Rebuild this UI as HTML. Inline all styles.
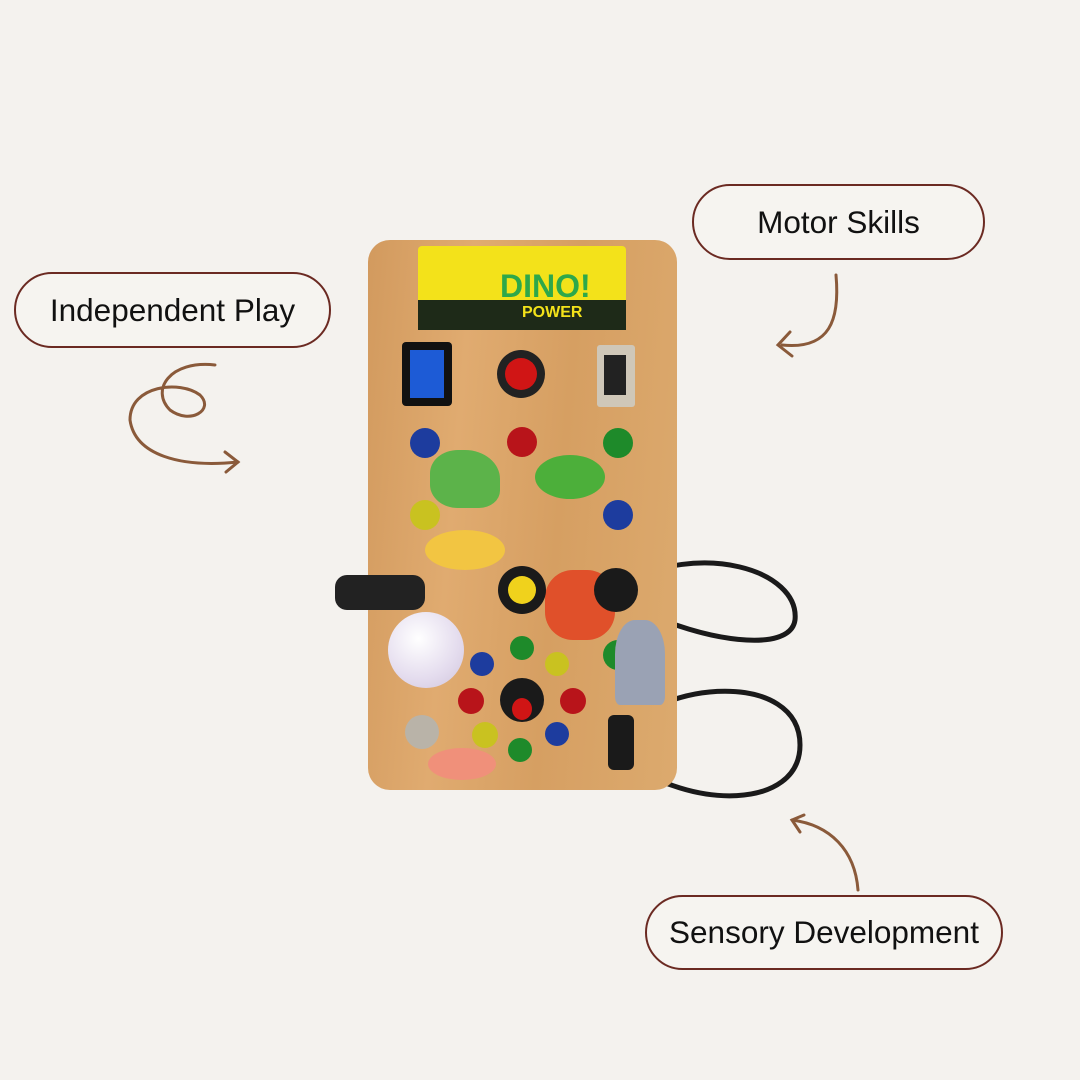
<!DOCTYPE html>
<html><head><meta charset="utf-8">
<style>
html,body{margin:0;padding:0}
body{width:1080px;height:1080px;background:#f4f2ee;position:relative;overflow:hidden;font-family:"Liberation Sans",sans-serif}
.pill{position:absolute;border:2px solid #6b2a22;border-radius:40px;box-sizing:border-box;display:flex;align-items:center;justify-content:center;font-size:31.5px;color:#111;background:#f6f4f0}
.board{position:absolute;left:368px;top:240px;width:309px;height:550px;border-radius:22px;background:linear-gradient(95deg,#d29a5e,#e0ab70 30%,#d69f62 60%,#dcaa6e)}
.c{position:absolute;border-radius:50%}
</style></head><body>

<div class="pill" style="left:692px;top:184px;width:293px;height:76px">Motor Skills</div>
<div class="pill" style="left:14px;top:272px;width:317px;height:76px">Independent Play</div>
<div class="pill" style="left:645px;top:895px;width:358px;height:75px">Sensory Development</div>

<svg style="position:absolute;left:0;top:0" width="1080" height="1080">
 <g fill="none" stroke="#8a5a3a" stroke-width="3" stroke-linecap="round">
  <path d="M836 275 C840 320 830 350 782 345"/>
  <path d="M790 332 L778 345 L792 356"/>
  <path d="M215 365 C170 360 150 390 170 410 C190 425 215 410 200 395 C180 380 130 385 130 420 C135 455 180 468 238 462"/>
  <path d="M225 452 L238 462 L226 472"/>
  <path d="M858 890 C855 850 830 825 792 820"/>
  <path d="M804 815 L792 820 L800 832"/>
 </g>
 <g fill="none" stroke="#1a1a1a" stroke-width="5">
  <path d="M620 585 C700 540 800 570 795 620 C790 655 700 640 640 610"/>
  <path d="M620 735 C660 680 800 670 800 745 C800 810 690 810 625 760"/>
 </g>
</svg>

<div class="board"></div>
<div style="position:absolute;left:418px;top:246px;width:208px;height:84px;background:#f3e21a;border-radius:4px"></div>
<div style="position:absolute;left:418px;top:300px;width:208px;height:30px;background:#1e2a18"></div>
<div style="position:absolute;left:500px;top:268px;font-weight:bold;font-size:32px;color:#2ea84a">DINO!</div>
<div style="position:absolute;left:522px;top:304px;font-weight:bold;font-size:16px;color:#f3e21a">POWER</div>
<div style="position:absolute;left:402px;top:342px;width:50px;height:64px;background:#111;border-radius:4px"></div>
<div style="position:absolute;left:410px;top:350px;width:34px;height:48px;background:#1d5bd6"></div>
<div class="c" style="left:497px;top:350px;width:48px;height:48px;background:#222"></div>
<div class="c" style="left:505px;top:358px;width:32px;height:32px;background:#d01515"></div>
<div style="position:absolute;left:597px;top:345px;width:38px;height:62px;background:#cfc7b8;border-radius:3px"></div>
<div style="position:absolute;left:604px;top:355px;width:22px;height:40px;background:#222"></div>
<div class="c" style="left:410px;top:428px;width:30px;height:30px;background:#1d3c9e"></div>
<div class="c" style="left:507px;top:427px;width:30px;height:30px;background:#b8141a"></div>
<div class="c" style="left:603px;top:428px;width:30px;height:30px;background:#1e8a2a"></div>
<div class="c" style="left:410px;top:500px;width:30px;height:30px;background:#c9c220"></div>
<div class="c" style="left:603px;top:500px;width:30px;height:30px;background:#1d3c9e"></div>
<div style="position:absolute;left:430px;top:450px;width:70px;height:58px;background:#5cb34a;border-radius:40% 50% 30% 40%"></div>
<div style="position:absolute;left:535px;top:455px;width:70px;height:44px;background:#4caf3a;border-radius:50%"></div>
<div style="position:absolute;left:425px;top:530px;width:80px;height:40px;background:#f2c542;border-radius:50%"></div>
<div style="position:absolute;left:545px;top:570px;width:70px;height:70px;background:#e0502a;border-radius:40%"></div>
<div class="c" style="left:498px;top:566px;width:48px;height:48px;background:#1a1a1a"></div>
<div class="c" style="left:508px;top:576px;width:28px;height:28px;background:#f0d21c"></div>
<div class="c" style="left:594px;top:568px;width:44px;height:44px;background:#1a1a1a"></div>
<div class="c" style="left:388px;top:612px;width:76px;height:76px;background:radial-gradient(circle at 40% 35%,#fff,#e4dcee 60%,#cfc4dc)"></div>
<div style="position:absolute;left:335px;top:575px;width:90px;height:35px;background:#222;border-radius:12px"></div>
<div class="c" style="left:470px;top:652px;width:24px;height:24px;background:#1d3c9e"></div>
<div class="c" style="left:510px;top:636px;width:24px;height:24px;background:#1e8a2a"></div>
<div class="c" style="left:545px;top:652px;width:24px;height:24px;background:#c9c220"></div>
<div class="c" style="left:603px;top:640px;width:30px;height:30px;background:#1e8a2a"></div>
<div style="position:absolute;left:615px;top:620px;width:50px;height:85px;background:#9aa2b4;border-radius:40% 40% 10% 10%"></div>
<div class="c" style="left:458px;top:688px;width:26px;height:26px;background:#b8141a"></div>
<div class="c" style="left:500px;top:678px;width:44px;height:44px;background:#1a1a1a"></div>
<div class="c" style="left:512px;top:698px;width:20px;height:22px;background:#d01515"></div>
<div class="c" style="left:560px;top:688px;width:26px;height:26px;background:#b8141a"></div>
<div class="c" style="left:472px;top:722px;width:26px;height:26px;background:#c9c220"></div>
<div class="c" style="left:545px;top:722px;width:24px;height:24px;background:#1d3c9e"></div>
<div class="c" style="left:508px;top:738px;width:24px;height:24px;background:#1e8a2a"></div>
<div class="c" style="left:405px;top:715px;width:34px;height:34px;background:#b9b3a8"></div>
<div style="position:absolute;left:428px;top:748px;width:68px;height:32px;background:#f0907a;border-radius:50%"></div>
<div style="position:absolute;left:608px;top:715px;width:26px;height:55px;background:#1a1a1a;border-radius:6px"></div>
</body></html>
